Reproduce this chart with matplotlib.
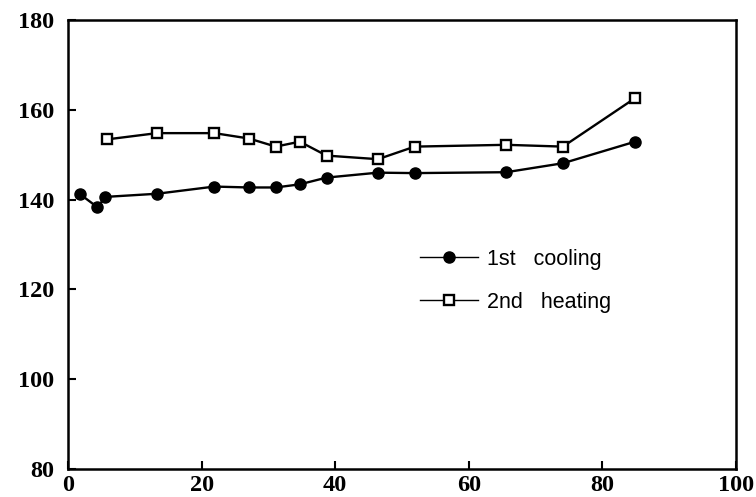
import numpy as np
import matplotlib.pyplot as plt

# datos
x_cool = [1.8, 4.4, 5.6, 13.3, 21.9, 27.1, 31.1, 34.7, 38.7, 46.4, 51.9, 65.6, 74.1, 84.9]
y_cool = [141.2, 138.3, 140.6, 141.3, 142.9, 142.7, 142.7, 143.4, 144.9, 146.0, 145.9, 146.1, 148.1, 152.9]

x_heat = [5.8, 13.3, 21.9, 27.1, 31.1, 34.7, 38.7, 46.4, 51.9, 65.6, 74.1, 84.9]
y_heat = [153.4, 154.8, 154.8, 153.6, 151.8, 152.9, 149.8, 149.0, 151.8, 152.2, 151.8, 162.6]

labels = ['1st   cooling', '2nd   heating']

fig = plt.figure(figsize=(7.56, 4.97), dpi=100)
ax = fig.add_axes([0.09, 0.0563, 0.8835, 0.9035])

ax.plot(x_cool, y_cool, '-k', marker='o', markersize=8, linewidth=1.7, label=labels[0])
ax.plot(x_heat, y_heat, '-k', marker='s', markersize=6.5, markerfacecolor='white',
        markeredgewidth=1.7, linewidth=1.7, label=labels[1])

ax.set_xlim(0, 100)
ax.set_ylim(80, 180)
ax.set_xticks(np.arange(0, 101, 20))
ax.set_yticks(np.arange(80, 181, 20))
ax.tick_params(direction='in', length=6, width=1.5)
ax.tick_params(axis='y', pad=10)
ax.tick_params(axis='x', pad=4)
for s in ax.spines.values():
    s.set_linewidth(1.8)
for lab in ax.get_xticklabels() + ax.get_yticklabels():
    lab.set_fontfamily('Liberation Serif')
    lab.set_fontweight('bold')
    lab.set_fontsize(17.5)

leg = ax.legend(loc='upper left', bbox_to_anchor=(0.527, 0.49), frameon=False,
                prop={'family': 'Liberation Sans', 'size': 15.5},
                borderpad=0, borderaxespad=0,
                handlelength=2.7, handletextpad=0.42, labelspacing=1.0)
for h in leg.legend_handles:
    h.set_linewidth(1.0)

fig.savefig('out.png', dpi=100)
